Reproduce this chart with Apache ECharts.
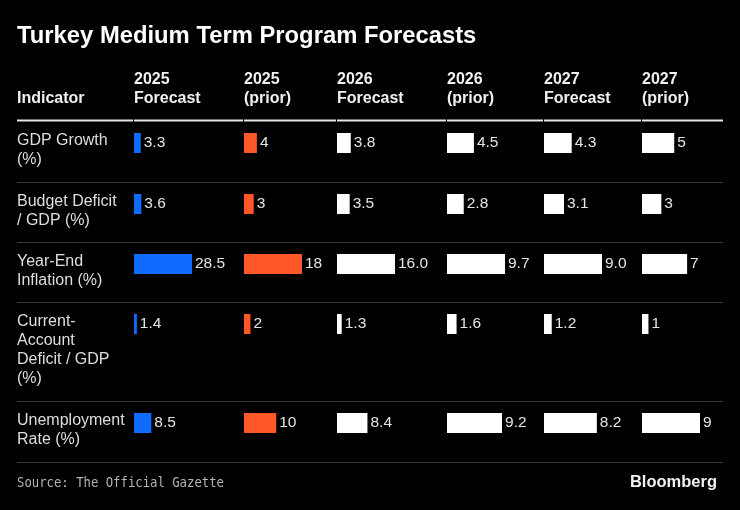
<!DOCTYPE html>
<html>
<head>
<meta charset="utf-8">
<script src="https://cdn.jsdelivr.net/npm/echarts@6/dist/echarts.min.js"></script>
<style>
html,body{margin:0;padding:0;background:#000;}
#chart{width:740px;height:510px;}
</style>
</head>
<body>
<div id="chart"></div>
<script>
// ---- data ----
const indicators = ['GDP Growth\n(%)', 'Budget Deficit\n/ GDP (%)', 'Year-End\nInflation (%)', 'Current-\nAccount\nDeficit / GDP\n(%)', 'Unemployment\nRate (%)'];
const columnHeaders = ['2025\nForecast', '2025\n(prior)', '2026\nForecast', '2026\n(prior)', '2027\nForecast', '2027\n(prior)'];
const f2025 = ['3.3', '3.6', '28.5', '1.4', '8.5'];
const p2025 = ['4', '3', '18', '2', '10'];
const f2026 = ['3.8', '3.5', '16.0', '1.3', '8.4'];
const p2026 = ['4.5', '2.8', '9.7', '1.6', '9.2'];
const f2027 = ['4.3', '3.1', '9.0', '1.2', '8.2'];
const p2027 = ['5', '3', '7', '1', '9'];
const columns = [f2025, p2025, f2026, p2026, f2027, p2027];

// ---- layout / style ----
const colors = ['#0f6cff', '#ff5727', '#ffffff', '#ffffff', '#ffffff', '#ffffff'];
const colX = [134, 244, 337, 447, 544, 642];
const rowTop = [121, 182, 242, 302, 401];
const tableBottom = 462;
const barMaxW = 58, barH = 20, barOffset = 12;
const FONT = '"Liberation Sans", Arial, Helvetica, sans-serif';

const grids = [], xAxes = [], yAxes = [], series = [];
columns.forEach((col, c) => {
  const vals = col.map(Number);
  const max = Math.max(...vals);
  col.forEach((s, r) => {
    const k = grids.length;
    grids.push({left: colX[c], top: rowTop[r] + barOffset, width: barMaxW, height: barH, containLabel: false});
    xAxes.push({type: 'value', gridIndex: k, min: 0, max: max, show: false});
    yAxes.push({type: 'category', gridIndex: k, data: [indicators[r]], show: false});
    series.push({
      type: 'bar', xAxisIndex: k, yAxisIndex: k,
      data: [Number(s)], barWidth: barH,
      itemStyle: {color: colors[c]},
      silent: true, animation: false,
      label: {show: true, position: 'right', distance: 3, color: '#e4e4e4',
        fontFamily: FONT, fontSize: 15.5, formatter: () => s}
    });
  });
});

const graphics = [];
// title
graphics.push({type: 'text', left: 17, top: 24, style: {text: 'Turkey Medium Term Program Forecasts', fill: '#ffffff', font: 'bold 23.8px ' + FONT}});
// headers
graphics.push({type: 'text', x: 17, y: 89, style: {text: 'Indicator', fill: '#f0f0f0', font: 'bold 16px ' + FONT, lineHeight: 19}});
columnHeaders.forEach((h, c) => {
  graphics.push({type: 'text', x: colX[c], y: 70, style: {text: h, fill: '#f0f0f0', font: 'bold 16px ' + FONT, lineHeight: 19}});
});
// header underline segments
const segStarts = [17].concat(colX);
const segEnds = colX.map(x => x - 1).concat([723]);
segStarts.forEach((x0, i) => {
  graphics.push({type: 'line', shape: {x1: x0, y1: 120.5, x2: segEnds[i], y2: 120.5}, style: {stroke: '#e6e6e6', lineWidth: 2}});
});
// indicators
indicators.forEach((t, r) => {
  graphics.push({type: 'text', x: 17, y: rowTop[r] + 10.5, style: {text: t, fill: '#dedede', font: '16px ' + FONT, lineHeight: 19}});
});
// row separators
rowTop.slice(1).concat([tableBottom]).forEach(y => {
  graphics.push({type: 'line', shape: {x1: 17, y1: y + 0.5, x2: 723, y2: y + 0.5}, style: {stroke: '#3a3a3a', lineWidth: 1}});
});
// footer
graphics.push({type: 'text', x: 17, y: 476, scaleX: 0.877, style: {text: 'Source: The Official Gazette', fill: '#b4b4b4', font: '14px "DejaVu Sans Mono", monospace'}});
graphics.push({type: 'text', right: 23, top: 474, style: {text: 'Bloomberg', fill: '#f2f2f2', font: 'bold 16.5px ' + FONT}});

const chart = echarts.init(document.getElementById('chart'), null, {renderer: 'canvas'});
chart.setOption({
  backgroundColor: '#000000',
  animation: false,
  grid: grids, xAxis: xAxes, yAxis: yAxes, series: series,
  graphic: graphics
});
</script>
</body>
</html>
